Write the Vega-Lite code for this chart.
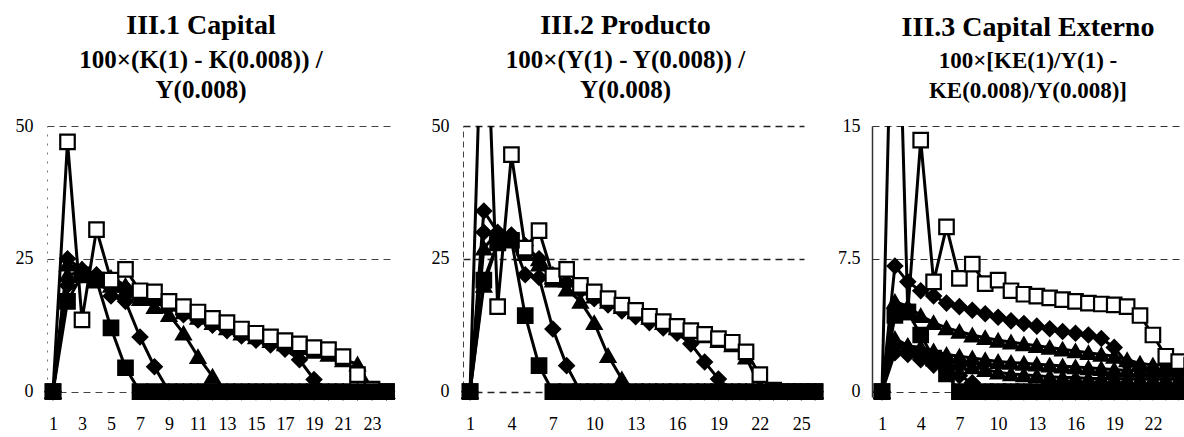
{
"$schema": "https://vega.github.io/schema/vega-lite/v6.json",
"padding": {"left": 0, "top": 12, "right": 0, "bottom": 0},
"background": "white",
"bounds": "flush",
"spacing": 68,
"config": {
  "view": {"stroke": null},
  "font": "Liberation Serif",
  "axis": {"labelFont": "Liberation Serif", "labelFontSize": 18, "labelColor": "black", "title": null, "ticks": false, "tickSize": 0},
  "title": {"font": "Liberation Serif", "fontSize": 28, "fontWeight": "bold", "color": "black", "subtitleFont": "Liberation Serif", "subtitleFontSize": 25, "subtitleFontWeight": "bold", "subtitleColor": "black", "subtitleLineHeight": 30, "subtitlePadding": 8, "anchor": "middle", "offset": 14}
},
"data": {"values": [
{"p":1,"s":"A","t":1,"v":0},{"p":1,"s":"A","t":2,"v":17},{"p":1,"s":"A","t":3,"v":22},{"p":1,"s":"A","t":4,"v":21},{"p":1,"s":"A","t":5,"v":12},{"p":1,"s":"A","t":6,"v":4.5},{"p":1,"s":"A","t":7,"v":0},{"p":1,"s":"A","t":8,"v":0},{"p":1,"s":"A","t":9,"v":0},{"p":1,"s":"A","t":10,"v":0},{"p":1,"s":"A","t":11,"v":0},{"p":1,"s":"A","t":12,"v":0},{"p":1,"s":"A","t":13,"v":0},{"p":1,"s":"A","t":14,"v":0},{"p":1,"s":"A","t":15,"v":0},{"p":1,"s":"A","t":16,"v":0},{"p":1,"s":"A","t":17,"v":0},{"p":1,"s":"A","t":18,"v":0},{"p":1,"s":"A","t":19,"v":0},{"p":1,"s":"A","t":20,"v":0},{"p":1,"s":"A","t":21,"v":0},{"p":1,"s":"A","t":22,"v":0},{"p":1,"s":"A","t":23,"v":0},{"p":1,"s":"A","t":24,"v":0},
{"p":1,"s":"B","t":1,"v":0},{"p":1,"s":"B","t":2,"v":20},{"p":1,"s":"B","t":3,"v":22},{"p":1,"s":"B","t":4,"v":21.5},{"p":1,"s":"B","t":5,"v":18},{"p":1,"s":"B","t":6,"v":17},{"p":1,"s":"B","t":7,"v":10.3},{"p":1,"s":"B","t":8,"v":4.7},{"p":1,"s":"B","t":9,"v":0},{"p":1,"s":"B","t":10,"v":0},{"p":1,"s":"B","t":11,"v":0},{"p":1,"s":"B","t":12,"v":0},{"p":1,"s":"B","t":13,"v":0},{"p":1,"s":"B","t":14,"v":0},{"p":1,"s":"B","t":15,"v":0},{"p":1,"s":"B","t":16,"v":0},{"p":1,"s":"B","t":17,"v":0},{"p":1,"s":"B","t":18,"v":0},{"p":1,"s":"B","t":19,"v":0},{"p":1,"s":"B","t":20,"v":0},{"p":1,"s":"B","t":21,"v":0},{"p":1,"s":"B","t":22,"v":0},{"p":1,"s":"B","t":23,"v":0},{"p":1,"s":"B","t":24,"v":0},
{"p":1,"s":"C","t":1,"v":0},{"p":1,"s":"C","t":2,"v":22},{"p":1,"s":"C","t":3,"v":22.5},{"p":1,"s":"C","t":4,"v":21},{"p":1,"s":"C","t":5,"v":20},{"p":1,"s":"C","t":6,"v":19},{"p":1,"s":"C","t":7,"v":17.5},{"p":1,"s":"C","t":8,"v":16},{"p":1,"s":"C","t":9,"v":14.5},{"p":1,"s":"C","t":10,"v":11},{"p":1,"s":"C","t":11,"v":6.6},{"p":1,"s":"C","t":12,"v":2.9},{"p":1,"s":"C","t":13,"v":0},{"p":1,"s":"C","t":14,"v":0},{"p":1,"s":"C","t":15,"v":0},{"p":1,"s":"C","t":16,"v":0},{"p":1,"s":"C","t":17,"v":0},{"p":1,"s":"C","t":18,"v":0},{"p":1,"s":"C","t":19,"v":0},{"p":1,"s":"C","t":20,"v":0},{"p":1,"s":"C","t":21,"v":0},{"p":1,"s":"C","t":22,"v":0},{"p":1,"s":"C","t":23,"v":0},{"p":1,"s":"C","t":24,"v":0},
{"p":1,"s":"D","t":1,"v":0},{"p":1,"s":"D","t":2,"v":25},{"p":1,"s":"D","t":3,"v":23},{"p":1,"s":"D","t":4,"v":22},{"p":1,"s":"D","t":5,"v":21},{"p":1,"s":"D","t":6,"v":19.5},{"p":1,"s":"D","t":7,"v":18},{"p":1,"s":"D","t":8,"v":17},{"p":1,"s":"D","t":9,"v":16},{"p":1,"s":"D","t":10,"v":14.5},{"p":1,"s":"D","t":11,"v":13.5},{"p":1,"s":"D","t":12,"v":12.5},{"p":1,"s":"D","t":13,"v":11.5},{"p":1,"s":"D","t":14,"v":10.5},{"p":1,"s":"D","t":15,"v":9.7},{"p":1,"s":"D","t":16,"v":8.8},{"p":1,"s":"D","t":17,"v":8},{"p":1,"s":"D","t":18,"v":6},{"p":1,"s":"D","t":19,"v":2.3},{"p":1,"s":"D","t":20,"v":0},{"p":1,"s":"D","t":21,"v":0},{"p":1,"s":"D","t":22,"v":0},{"p":1,"s":"D","t":23,"v":0},{"p":1,"s":"D","t":24,"v":0},
{"p":1,"s":"E","t":1,"v":0},{"p":1,"s":"E","t":2,"v":24},{"p":1,"s":"E","t":3,"v":23},{"p":1,"s":"E","t":4,"v":22},{"p":1,"s":"E","t":5,"v":21.5},{"p":1,"s":"E","t":6,"v":20},{"p":1,"s":"E","t":7,"v":18.5},{"p":1,"s":"E","t":8,"v":17.5},{"p":1,"s":"E","t":9,"v":16.5},{"p":1,"s":"E","t":10,"v":15},{"p":1,"s":"E","t":11,"v":14},{"p":1,"s":"E","t":12,"v":13},{"p":1,"s":"E","t":13,"v":12},{"p":1,"s":"E","t":14,"v":11},{"p":1,"s":"E","t":15,"v":10.3},{"p":1,"s":"E","t":16,"v":9.6},{"p":1,"s":"E","t":17,"v":9},{"p":1,"s":"E","t":18,"v":8.3},{"p":1,"s":"E","t":19,"v":7.6},{"p":1,"s":"E","t":20,"v":7},{"p":1,"s":"E","t":21,"v":6},{"p":1,"s":"E","t":22,"v":5.2},{"p":1,"s":"E","t":23,"v":0.5},{"p":1,"s":"E","t":24,"v":0},
{"p":1,"s":"F","t":1,"v":0},{"p":1,"s":"F","t":2,"v":47},{"p":1,"s":"F","t":3,"v":13.5},{"p":1,"s":"F","t":4,"v":30.5},{"p":1,"s":"F","t":5,"v":21},{"p":1,"s":"F","t":6,"v":23},{"p":1,"s":"F","t":7,"v":19},{"p":1,"s":"F","t":8,"v":18.8},{"p":1,"s":"F","t":9,"v":17},{"p":1,"s":"F","t":10,"v":16},{"p":1,"s":"F","t":11,"v":15},{"p":1,"s":"F","t":12,"v":13.8},{"p":1,"s":"F","t":13,"v":13},{"p":1,"s":"F","t":14,"v":11.8},{"p":1,"s":"F","t":15,"v":11},{"p":1,"s":"F","t":16,"v":10.3},{"p":1,"s":"F","t":17,"v":9.6},{"p":1,"s":"F","t":18,"v":9},{"p":1,"s":"F","t":19,"v":8.3},{"p":1,"s":"F","t":20,"v":7.9},{"p":1,"s":"F","t":21,"v":6.6},{"p":1,"s":"F","t":22,"v":3.2},{"p":1,"s":"F","t":23,"v":0.5},{"p":1,"s":"F","t":24,"v":0},
{"p":2,"s":"A","t":1,"v":0},{"p":2,"s":"A","t":2,"v":21},{"p":2,"s":"A","t":3,"v":28},{"p":2,"s":"A","t":4,"v":28.5},{"p":2,"s":"A","t":5,"v":14.3},{"p":2,"s":"A","t":6,"v":4.9},{"p":2,"s":"A","t":7,"v":0},{"p":2,"s":"A","t":8,"v":0},{"p":2,"s":"A","t":9,"v":0},{"p":2,"s":"A","t":10,"v":0},{"p":2,"s":"A","t":11,"v":0},{"p":2,"s":"A","t":12,"v":0},{"p":2,"s":"A","t":13,"v":0},{"p":2,"s":"A","t":14,"v":0},{"p":2,"s":"A","t":15,"v":0},{"p":2,"s":"A","t":16,"v":0},{"p":2,"s":"A","t":17,"v":0},{"p":2,"s":"A","t":18,"v":0},{"p":2,"s":"A","t":19,"v":0},{"p":2,"s":"A","t":20,"v":0},{"p":2,"s":"A","t":21,"v":0},{"p":2,"s":"A","t":22,"v":0},{"p":2,"s":"A","t":23,"v":0},{"p":2,"s":"A","t":24,"v":0},{"p":2,"s":"A","t":25,"v":0},{"p":2,"s":"A","t":26,"v":0},
{"p":2,"s":"B","t":1,"v":0},{"p":2,"s":"B","t":2,"v":34},{"p":2,"s":"B","t":3,"v":30},{"p":2,"s":"B","t":4,"v":29},{"p":2,"s":"B","t":5,"v":22},{"p":2,"s":"B","t":6,"v":21.5},{"p":2,"s":"B","t":7,"v":11.8},{"p":2,"s":"B","t":8,"v":4.9},{"p":2,"s":"B","t":9,"v":0},{"p":2,"s":"B","t":10,"v":0},{"p":2,"s":"B","t":11,"v":0},{"p":2,"s":"B","t":12,"v":0},{"p":2,"s":"B","t":13,"v":0},{"p":2,"s":"B","t":14,"v":0},{"p":2,"s":"B","t":15,"v":0},{"p":2,"s":"B","t":16,"v":0},{"p":2,"s":"B","t":17,"v":0},{"p":2,"s":"B","t":18,"v":0},{"p":2,"s":"B","t":19,"v":0},{"p":2,"s":"B","t":20,"v":0},{"p":2,"s":"B","t":21,"v":0},{"p":2,"s":"B","t":22,"v":0},{"p":2,"s":"B","t":23,"v":0},{"p":2,"s":"B","t":24,"v":0},{"p":2,"s":"B","t":25,"v":0},{"p":2,"s":"B","t":26,"v":0},
{"p":2,"s":"C","t":1,"v":0},{"p":2,"s":"C","t":2,"v":20},{"p":2,"s":"C","t":3,"v":28},{"p":2,"s":"C","t":4,"v":28.5},{"p":2,"s":"C","t":5,"v":27},{"p":2,"s":"C","t":6,"v":25},{"p":2,"s":"C","t":7,"v":21},{"p":2,"s":"C","t":8,"v":19.3},{"p":2,"s":"C","t":9,"v":17},{"p":2,"s":"C","t":10,"v":13},{"p":2,"s":"C","t":11,"v":6.8},{"p":2,"s":"C","t":12,"v":2.4},{"p":2,"s":"C","t":13,"v":0},{"p":2,"s":"C","t":14,"v":0},{"p":2,"s":"C","t":15,"v":0},{"p":2,"s":"C","t":16,"v":0},{"p":2,"s":"C","t":17,"v":0},{"p":2,"s":"C","t":18,"v":0},{"p":2,"s":"C","t":19,"v":0},{"p":2,"s":"C","t":20,"v":0},{"p":2,"s":"C","t":21,"v":0},{"p":2,"s":"C","t":22,"v":0},{"p":2,"s":"C","t":23,"v":0},{"p":2,"s":"C","t":24,"v":0},{"p":2,"s":"C","t":25,"v":0},{"p":2,"s":"C","t":26,"v":0},
{"p":2,"s":"D","t":1,"v":0},{"p":2,"s":"D","t":2,"v":30},{"p":2,"s":"D","t":3,"v":29},{"p":2,"s":"D","t":4,"v":29.5},{"p":2,"s":"D","t":5,"v":27.5},{"p":2,"s":"D","t":6,"v":25},{"p":2,"s":"D","t":7,"v":22},{"p":2,"s":"D","t":8,"v":20.5},{"p":2,"s":"D","t":9,"v":19},{"p":2,"s":"D","t":10,"v":17.5},{"p":2,"s":"D","t":11,"v":16.3},{"p":2,"s":"D","t":12,"v":15.2},{"p":2,"s":"D","t":13,"v":14.1},{"p":2,"s":"D","t":14,"v":13},{"p":2,"s":"D","t":15,"v":12},{"p":2,"s":"D","t":16,"v":11},{"p":2,"s":"D","t":17,"v":9},{"p":2,"s":"D","t":18,"v":5.6},{"p":2,"s":"D","t":19,"v":2.4},{"p":2,"s":"D","t":20,"v":0},{"p":2,"s":"D","t":21,"v":0},{"p":2,"s":"D","t":22,"v":0},{"p":2,"s":"D","t":23,"v":0},{"p":2,"s":"D","t":24,"v":0},{"p":2,"s":"D","t":25,"v":0},{"p":2,"s":"D","t":26,"v":0},
{"p":2,"s":"E","t":1,"v":0},{"p":2,"s":"E","t":2,"v":27},{"p":2,"s":"E","t":3,"v":30},{"p":2,"s":"E","t":4,"v":29},{"p":2,"s":"E","t":5,"v":26},{"p":2,"s":"E","t":6,"v":24},{"p":2,"s":"E","t":7,"v":21.5},{"p":2,"s":"E","t":8,"v":21},{"p":2,"s":"E","t":9,"v":19.5},{"p":2,"s":"E","t":10,"v":18},{"p":2,"s":"E","t":11,"v":17},{"p":2,"s":"E","t":12,"v":16},{"p":2,"s":"E","t":13,"v":15},{"p":2,"s":"E","t":14,"v":14},{"p":2,"s":"E","t":15,"v":13},{"p":2,"s":"E","t":16,"v":12},{"p":2,"s":"E","t":17,"v":11.5},{"p":2,"s":"E","t":18,"v":10.5},{"p":2,"s":"E","t":19,"v":9.6},{"p":2,"s":"E","t":20,"v":8.8},{"p":2,"s":"E","t":21,"v":6.5},{"p":2,"s":"E","t":22,"v":1},{"p":2,"s":"E","t":23,"v":0},{"p":2,"s":"E","t":24,"v":0},{"p":2,"s":"E","t":25,"v":0},{"p":2,"s":"E","t":26,"v":0},
{"p":2,"s":"F","t":1,"v":0},{"p":2,"s":"F","t":2,"v":85},{"p":2,"s":"F","t":3,"v":16},{"p":2,"s":"F","t":4,"v":44.6},{"p":2,"s":"F","t":5,"v":27},{"p":2,"s":"F","t":6,"v":30.3},{"p":2,"s":"F","t":7,"v":21.8},{"p":2,"s":"F","t":8,"v":23},{"p":2,"s":"F","t":9,"v":20},{"p":2,"s":"F","t":10,"v":18.8},{"p":2,"s":"F","t":11,"v":17.5},{"p":2,"s":"F","t":12,"v":16.3},{"p":2,"s":"F","t":13,"v":15.3},{"p":2,"s":"F","t":14,"v":14.2},{"p":2,"s":"F","t":15,"v":13.2},{"p":2,"s":"F","t":16,"v":12.3},{"p":2,"s":"F","t":17,"v":11.5},{"p":2,"s":"F","t":18,"v":10.8},{"p":2,"s":"F","t":19,"v":10},{"p":2,"s":"F","t":20,"v":9.3},{"p":2,"s":"F","t":21,"v":7.5},{"p":2,"s":"F","t":22,"v":3.2},{"p":2,"s":"F","t":23,"v":0.3},{"p":2,"s":"F","t":24,"v":0},{"p":2,"s":"F","t":25,"v":0},{"p":2,"s":"F","t":26,"v":0},
{"p":3,"s":"A","t":1,"v":0},{"p":3,"s":"A","t":2,"v":4.3},{"p":3,"s":"A","t":3,"v":4.5},{"p":3,"s":"A","t":4,"v":3.2},{"p":3,"s":"A","t":5,"v":1.9},{"p":3,"s":"A","t":6,"v":1},{"p":3,"s":"A","t":7,"v":0},{"p":3,"s":"A","t":8,"v":0},{"p":3,"s":"A","t":9,"v":0},{"p":3,"s":"A","t":10,"v":0},{"p":3,"s":"A","t":11,"v":0},{"p":3,"s":"A","t":12,"v":0},{"p":3,"s":"A","t":13,"v":0},{"p":3,"s":"A","t":14,"v":0},{"p":3,"s":"A","t":15,"v":0},{"p":3,"s":"A","t":16,"v":0},{"p":3,"s":"A","t":17,"v":0},{"p":3,"s":"A","t":18,"v":0},{"p":3,"s":"A","t":19,"v":0},{"p":3,"s":"A","t":20,"v":0},{"p":3,"s":"A","t":21,"v":0},{"p":3,"s":"A","t":22,"v":0},{"p":3,"s":"A","t":23,"v":0},{"p":3,"s":"A","t":24,"v":0},{"p":3,"s":"A","t":25,"v":0},
{"p":3,"s":"B","t":1,"v":0},{"p":3,"s":"B","t":2,"v":2.2},{"p":3,"s":"B","t":3,"v":2.1},{"p":3,"s":"B","t":4,"v":1.8},{"p":3,"s":"B","t":5,"v":1.5},{"p":3,"s":"B","t":6,"v":1.2},{"p":3,"s":"B","t":7,"v":0.9},{"p":3,"s":"B","t":8,"v":0.5},{"p":3,"s":"B","t":9,"v":0},{"p":3,"s":"B","t":10,"v":0},{"p":3,"s":"B","t":11,"v":0},{"p":3,"s":"B","t":12,"v":0},{"p":3,"s":"B","t":13,"v":0},{"p":3,"s":"B","t":14,"v":0},{"p":3,"s":"B","t":15,"v":0},{"p":3,"s":"B","t":16,"v":0},{"p":3,"s":"B","t":17,"v":0},{"p":3,"s":"B","t":18,"v":0},{"p":3,"s":"B","t":19,"v":0},{"p":3,"s":"B","t":20,"v":0},{"p":3,"s":"B","t":21,"v":0},{"p":3,"s":"B","t":22,"v":0},{"p":3,"s":"B","t":23,"v":0},{"p":3,"s":"B","t":24,"v":0},{"p":3,"s":"B","t":25,"v":0},
{"p":3,"s":"C","t":1,"v":0},{"p":3,"s":"C","t":2,"v":3},{"p":3,"s":"C","t":3,"v":2.6},{"p":3,"s":"C","t":4,"v":2.3},{"p":3,"s":"C","t":5,"v":2},{"p":3,"s":"C","t":6,"v":1.8},{"p":3,"s":"C","t":7,"v":1.6},{"p":3,"s":"C","t":8,"v":1.4},{"p":3,"s":"C","t":9,"v":1.25},{"p":3,"s":"C","t":10,"v":1.1},{"p":3,"s":"C","t":11,"v":1},{"p":3,"s":"C","t":12,"v":0.95},{"p":3,"s":"C","t":13,"v":0.9},{"p":3,"s":"C","t":14,"v":0.85},{"p":3,"s":"C","t":15,"v":0.8},{"p":3,"s":"C","t":16,"v":0.8},{"p":3,"s":"C","t":17,"v":0.75},{"p":3,"s":"C","t":18,"v":0.75},{"p":3,"s":"C","t":19,"v":0.75},{"p":3,"s":"C","t":20,"v":0.7},{"p":3,"s":"C","t":21,"v":0.7},{"p":3,"s":"C","t":22,"v":0.7},{"p":3,"s":"C","t":23,"v":0.7},{"p":3,"s":"C","t":24,"v":0.7},{"p":3,"s":"C","t":25,"v":0.7},
{"p":3,"s":"D","t":1,"v":0},{"p":3,"s":"D","t":2,"v":7.1},{"p":3,"s":"D","t":3,"v":6.2},{"p":3,"s":"D","t":4,"v":5.7},{"p":3,"s":"D","t":5,"v":5.4},{"p":3,"s":"D","t":6,"v":5},{"p":3,"s":"D","t":7,"v":4.8},{"p":3,"s":"D","t":8,"v":4.6},{"p":3,"s":"D","t":9,"v":4.4},{"p":3,"s":"D","t":10,"v":4.2},{"p":3,"s":"D","t":11,"v":4},{"p":3,"s":"D","t":12,"v":3.85},{"p":3,"s":"D","t":13,"v":3.7},{"p":3,"s":"D","t":14,"v":3.55},{"p":3,"s":"D","t":15,"v":3.4},{"p":3,"s":"D","t":16,"v":3.3},{"p":3,"s":"D","t":17,"v":3.2},{"p":3,"s":"D","t":18,"v":3},{"p":3,"s":"D","t":19,"v":2.5},{"p":3,"s":"D","t":20,"v":1.6},{"p":3,"s":"D","t":21,"v":1.3},{"p":3,"s":"D","t":22,"v":1.2},{"p":3,"s":"D","t":23,"v":1.2},{"p":3,"s":"D","t":24,"v":1.2},{"p":3,"s":"D","t":25,"v":1.2},
{"p":3,"s":"E","t":1,"v":0},{"p":3,"s":"E","t":2,"v":5.1},{"p":3,"s":"E","t":3,"v":4.8},{"p":3,"s":"E","t":4,"v":4.3},{"p":3,"s":"E","t":5,"v":3.9},{"p":3,"s":"E","t":6,"v":3.6},{"p":3,"s":"E","t":7,"v":3.4},{"p":3,"s":"E","t":8,"v":3.2},{"p":3,"s":"E","t":9,"v":3.05},{"p":3,"s":"E","t":10,"v":2.9},{"p":3,"s":"E","t":11,"v":2.8},{"p":3,"s":"E","t":12,"v":2.7},{"p":3,"s":"E","t":13,"v":2.6},{"p":3,"s":"E","t":14,"v":2.5},{"p":3,"s":"E","t":15,"v":2.4},{"p":3,"s":"E","t":16,"v":2.3},{"p":3,"s":"E","t":17,"v":2.2},{"p":3,"s":"E","t":18,"v":2.1},{"p":3,"s":"E","t":19,"v":2},{"p":3,"s":"E","t":20,"v":1.8},{"p":3,"s":"E","t":21,"v":1.6},{"p":3,"s":"E","t":22,"v":1.5},{"p":3,"s":"E","t":23,"v":1.5},{"p":3,"s":"E","t":24,"v":1.5},{"p":3,"s":"E","t":25,"v":1.5},
{"p":3,"s":"G","t":1,"v":0},{"p":3,"s":"G","t":2,"v":2.8},{"p":3,"s":"G","t":3,"v":2.6},{"p":3,"s":"G","t":4,"v":2.5},{"p":3,"s":"G","t":5,"v":2.3},{"p":3,"s":"G","t":6,"v":2.1},{"p":3,"s":"G","t":7,"v":2},{"p":3,"s":"G","t":8,"v":1.9},{"p":3,"s":"G","t":9,"v":1.8},{"p":3,"s":"G","t":10,"v":1.7},{"p":3,"s":"G","t":11,"v":1.65},{"p":3,"s":"G","t":12,"v":1.6},{"p":3,"s":"G","t":13,"v":1.55},{"p":3,"s":"G","t":14,"v":1.5},{"p":3,"s":"G","t":15,"v":1.45},{"p":3,"s":"G","t":16,"v":1.4},{"p":3,"s":"G","t":17,"v":1.35},{"p":3,"s":"G","t":18,"v":1.3},{"p":3,"s":"G","t":19,"v":1.25},{"p":3,"s":"G","t":20,"v":1.2},{"p":3,"s":"G","t":21,"v":1.2},{"p":3,"s":"G","t":22,"v":1.2},{"p":3,"s":"G","t":23,"v":1.2},{"p":3,"s":"G","t":24,"v":1.2},{"p":3,"s":"G","t":25,"v":1.2},
{"p":3,"s":"F","t":1,"v":0},{"p":3,"s":"F","t":2,"v":30},{"p":3,"s":"F","t":3,"v":4.5},{"p":3,"s":"F","t":4,"v":14.2},{"p":3,"s":"F","t":5,"v":6.2},{"p":3,"s":"F","t":6,"v":9.3},{"p":3,"s":"F","t":7,"v":6.4},{"p":3,"s":"F","t":8,"v":7.2},{"p":3,"s":"F","t":9,"v":6.1},{"p":3,"s":"F","t":10,"v":6.3},{"p":3,"s":"F","t":11,"v":5.7},{"p":3,"s":"F","t":12,"v":5.5},{"p":3,"s":"F","t":13,"v":5.4},{"p":3,"s":"F","t":14,"v":5.3},{"p":3,"s":"F","t":15,"v":5.2},{"p":3,"s":"F","t":16,"v":5.1},{"p":3,"s":"F","t":17,"v":5},{"p":3,"s":"F","t":18,"v":4.95},{"p":3,"s":"F","t":19,"v":4.9},{"p":3,"s":"F","t":20,"v":4.8},{"p":3,"s":"F","t":21,"v":4.3},{"p":3,"s":"F","t":22,"v":3.2},{"p":3,"s":"F","t":23,"v":2},{"p":3,"s":"F","t":24,"v":1.7},{"p":3,"s":"F","t":25,"v":1.5}
]},
"hconcat": [
{
  "width": 348, "height": 271,
  "title": {"text": "III.1 Capital", "subtitle": ["100×(K(1) - K(0.008)) /", "Y(0.008)"], "dx": -20},
  "transform": [{"filter": "datum.p == 1"}],
  "encoding": {
    "x": {"field": "t", "type": "quantitative", "scale": {"domain": [0.586, 24.586], "nice": false, "zero": false}, "axis": {"values": [1,3,5,7,9,11,13,15,17,19,21,23], "domain": false, "grid": false, "labelPadding": 18, "labelFlush": false}},
    "y": {"field": "v", "type": "quantitative", "scale": {"domain": [-1, 50], "nice": false, "zero": false}, "axis": {"values": [0,25,50], "grid": true, "gridDash": [7,5], "gridColor": "#444", "gridWidth": 1, "domain": true, "domainDash": [2,7], "domainColor": "#777", "labelPadding": 14, "minExtent": 47, "maxExtent": 47}}
  },
  "layer": [
    {"mark": {"type": "line", "color": "black", "strokeWidth": 3, "clip": true}, "encoding": {"detail": {"field": "s", "type": "nominal"}}},
    {"transform": [{"filter": "datum.v <= 50 && datum.s != 'A'"}], "mark": {"type": "point", "filled": true, "stroke": "black", "strokeWidth": 2.2, "opacity": 1, "size": 210},
     "encoding": {
       "shape": {"field": "s", "type": "nominal", "scale": {"domain": ["A","B","C","D","E","G","F"], "range": ["square","diamond","triangle-up","diamond","triangle-up","triangle-up","square"]}, "legend": null},
       "fill": {"field": "s", "type": "nominal", "scale": {"domain": ["A","B","C","D","E","G","F"], "range": ["black","black","black","black","black","black","white"]}, "legend": null}
     }},
    {"transform": [{"filter": "datum.s == 'A'"}], "mark": {"type": "point", "filled": true, "shape": "square", "fill": "black", "stroke": "black", "strokeWidth": 2.2, "opacity": 1, "size": 210}, "encoding": {}}
  ]
},
{
  "width": 341, "height": 271,
  "title": {"text": "III.2 Producto", "subtitle": ["100×(Y(1) - Y(0.008)) /", "Y(0.008)"], "dx": -8},
  "transform": [{"filter": "datum.p == 2"}],
  "encoding": {
    "x": {"field": "t", "type": "quantitative", "scale": {"domain": [0.49, 25.2], "nice": false, "zero": false}, "axis": {"values": [1,4,7,10,13,16,19,22,25], "domain": false, "grid": false, "labelPadding": 18, "labelFlush": false}},
    "y": {"field": "v", "type": "quantitative", "scale": {"domain": [-1, 50], "nice": false, "zero": false}, "axis": {"values": [0,25,50], "grid": true, "gridDash": [7,5], "gridColor": "#222", "gridWidth": 1.3, "domain": true, "domainDash": [6,4], "domainColor": "#444", "labelPadding": 14}}
  },
  "layer": [
    {"mark": {"type": "line", "color": "black", "strokeWidth": 3, "clip": true}, "encoding": {"detail": {"field": "s", "type": "nominal"}}},
    {"transform": [{"filter": "datum.v <= 50 && datum.s != 'A'"}], "mark": {"type": "point", "filled": true, "stroke": "black", "strokeWidth": 2.2, "opacity": 1, "size": 210},
     "encoding": {
       "shape": {"field": "s", "type": "nominal", "scale": {"domain": ["A","B","C","D","E","G","F"], "range": ["square","diamond","triangle-up","diamond","triangle-up","triangle-up","square"]}, "legend": null},
       "fill": {"field": "s", "type": "nominal", "scale": {"domain": ["A","B","C","D","E","G","F"], "range": ["black","black","black","black","black","black","white"]}, "legend": null}
     }},
    {"transform": [{"filter": "datum.s == 'A'"}], "mark": {"type": "point", "filled": true, "shape": "square", "fill": "black", "stroke": "black", "strokeWidth": 2.2, "opacity": 1, "size": 210}, "encoding": {}}
  ]
},
{
  "width": 312, "height": 271,
  "title": {"text": "III.3 Capital Externo", "subtitle": ["100×[KE(1)/Y(1) -", "KE(0.008)/Y(0.008)]"], "subtitleFontSize": 23, "dx": 0},
  "transform": [{"filter": "datum.p == 3"}],
  "encoding": {
    "x": {"field": "t", "type": "quantitative", "scale": {"domain": [0.225, 24.41], "nice": false, "zero": false}, "axis": {"values": [1,4,7,10,13,16,19,22], "domain": false, "grid": false, "labelPadding": 18, "labelFlush": false}},
    "y": {"field": "v", "type": "quantitative", "scale": {"domain": [-0.3, 15], "nice": false, "zero": false}, "axis": {"values": [0,7.5,15], "format": ".1~f", "grid": true, "gridDash": [7,5], "gridColor": "#333", "gridWidth": 1, "domain": true, "domainColor": "#333", "domainWidth": 1.5, "labelPadding": 12}}
  },
  "layer": [
    {"mark": {"type": "line", "color": "black", "strokeWidth": 3, "clip": true}, "encoding": {"detail": {"field": "s", "type": "nominal"}}},
    {"transform": [{"filter": "datum.v <= 15 && datum.s != 'A'"}], "mark": {"type": "point", "filled": true, "stroke": "black", "strokeWidth": 2.2, "opacity": 1, "size": 210},
     "encoding": {
       "shape": {"field": "s", "type": "nominal", "scale": {"domain": ["A","B","C","D","E","G","F"], "range": ["square","diamond","triangle-up","diamond","triangle-up","triangle-up","square"]}, "legend": null},
       "fill": {"field": "s", "type": "nominal", "scale": {"domain": ["A","B","C","D","E","G","F"], "range": ["black","black","black","black","black","black","white"]}, "legend": null}
     }},
    {"transform": [{"filter": "datum.s == 'A'"}], "mark": {"type": "point", "filled": true, "shape": "square", "fill": "black", "stroke": "black", "strokeWidth": 2.2, "opacity": 1, "size": 210}, "encoding": {}}
  ]
}
]
}
